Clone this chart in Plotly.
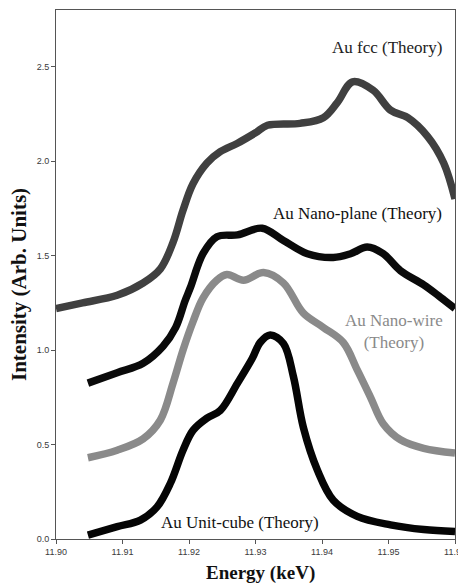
import plotly.graph_objects as go

# Au fcc (Theory)
fcc_x = [11.9000, 11.9040, 11.9092, 11.9131, 11.9157, 11.9176, 11.9191, 11.9206, 11.9227, 11.9247,
         11.9273, 11.9300, 11.9318, 11.9367, 11.9402, 11.9423, 11.9446, 11.9477, 11.9503, 11.9529,
         11.9559, 11.9583, 11.9600]
fcc_y = [1.22, 1.25, 1.29, 1.355, 1.43, 1.57, 1.74, 1.88, 1.99, 2.05,
         2.095, 2.15, 2.19, 2.20, 2.23, 2.31, 2.42, 2.375, 2.27, 2.23,
         2.13, 1.99, 1.80]

# Au Nano-plane (Theory)
plane_x = [11.9048, 11.9092, 11.9131, 11.9161, 11.9180, 11.9194, 11.9202, 11.9221, 11.9242, 11.9273,
           11.9310, 11.9342, 11.9378, 11.9417, 11.9443, 11.9468, 11.9492, 11.9518, 11.9553, 11.9578,
           11.9600]
plane_y = [0.825, 0.88, 0.93, 1.02, 1.12, 1.26, 1.33, 1.51, 1.60, 1.61,
           1.645, 1.58, 1.51, 1.49, 1.51, 1.545, 1.51, 1.42, 1.345, 1.28,
           1.22]

# Au Nano-wire (Theory)
wire_x = [11.9048, 11.9092, 11.9131, 11.9157, 11.9176, 11.9191, 11.9206, 11.9221, 11.9242, 11.9257,
          11.9282, 11.9312, 11.9342, 11.9372, 11.9402, 11.9432, 11.9453, 11.9473, 11.9492, 11.9518,
          11.9553, 11.9600]
wire_y = [0.43, 0.47, 0.53, 0.63, 0.825, 1.0, 1.15, 1.275, 1.37, 1.40,
          1.37, 1.41, 1.355, 1.195, 1.12, 1.04, 0.895, 0.75, 0.61, 0.525,
          0.48, 0.455]

# Au Unit-cube (Theory)
cube_x = [11.9048, 11.9092, 11.9127, 11.9152, 11.9172, 11.9191, 11.9206, 11.9227, 11.9247, 11.9273,
          11.9295, 11.9307, 11.9322, 11.9342, 11.9357, 11.9372, 11.9393, 11.9417, 11.9453, 11.9503,
          11.9553, 11.9600]
cube_y = [0.02, 0.065, 0.10, 0.17, 0.295, 0.47, 0.575, 0.64, 0.68, 0.825,
          0.955, 1.04, 1.08, 1.035, 0.86, 0.59, 0.365, 0.205, 0.12, 0.075,
          0.05, 0.04]

x_ticks = [11.90, 11.91, 11.92, 11.93, 11.94, 11.95, 11.96]
y_ticks = [0.0, 0.5, 1.0, 1.5, 2.0, 2.5]

# page body has an 8px margin; figure is offset by it
W, H = 458, 577
ML, MR, MT, MB = 48, 11, 2, 46
PW, PH = W - ML - MR, H - MT - MB

fig = go.Figure()
series = [
    (fcc_x, fcc_y, "#404040"),
    (plane_x, plane_y, "#0a0a0a"),
    (wire_x, wire_y, "#8a8a8a"),
    (cube_x, cube_y, "#050505"),
]
for xs, ys, col in series:
    fig.add_trace(go.Scatter(x=xs, y=ys, mode="lines",
                             line=dict(color=col, width=7.5, shape="spline", smoothing=1.0),
                             showlegend=False, hoverinfo="skip", cliponaxis=False))

serif = "Liberation Serif, Times New Roman, serif"
annos = [
    (11.9498, 2.603, "Au fcc (Theory)", "#222222"),
    (11.9453, 1.725, "Au Nano-plane (Theory)", "#111111"),
    (11.9509, 1.10, "Au Nano-wire<br>(Theory)", "#8a8a8a"),
    (11.9277, 0.085, "Au Unit-cube (Theory)", "#111111"),
]
for ax, ay, txt, col in annos:
    fig.add_annotation(x=ax, y=ay, xref="x", yref="y", text=txt, showarrow=False,
                       font=dict(family=serif, size=17, color=col))

# axis titles (positions given in page pixels, converted to paper coords)
def paper_xy(px, py):
    return (px - 8 - ML) / PW, (H - MB - (py - 8)) / PH

tx, ty = paper_xy(260, 573)
fig.add_annotation(x=tx, y=ty, xref="paper", yref="paper", text="<b>Energy (keV)</b>",
                   xanchor="center", yanchor="middle", showarrow=False,
                   font=dict(family=serif, size=19, color="#111111"))
tx, ty = paper_xy(19, 285)
fig.add_annotation(x=tx, y=ty, xref="paper", yref="paper", text="<b>Intensity (Arb. Units)</b>",
                   textangle=-90, xanchor="center", yanchor="middle", showarrow=False,
                   font=dict(family=serif, size=21, color="#111111"))

tickfont = dict(family="Liberation Sans, Arial, sans-serif", size=9, color="#3a3a3a")
fig.update_layout(
    width=W, height=H,
    margin=dict(l=ML, r=MR, t=MT, b=MB),
    paper_bgcolor="white", plot_bgcolor="white",
    xaxis=dict(range=[11.90, 11.96], tickvals=x_ticks, ticktext=[f"{v:.2f}" for v in x_ticks],
               showgrid=False, zeroline=False, showline=True, linecolor="#555555", linewidth=1,
               mirror=True, ticks="outside", ticklen=4, tickcolor="#555555", automargin=False,
               tickfont=tickfont),
    yaxis=dict(range=[0, 2.8], tickvals=y_ticks, ticktext=[f"{v:.1f}" for v in y_ticks],
               showgrid=False, zeroline=False, showline=True, linecolor="#555555", linewidth=1,
               mirror=True, ticks="outside", ticklen=4, tickcolor="#555555", automargin=False,
               tickfont=tickfont),
)

fig.write_html("out.html")
